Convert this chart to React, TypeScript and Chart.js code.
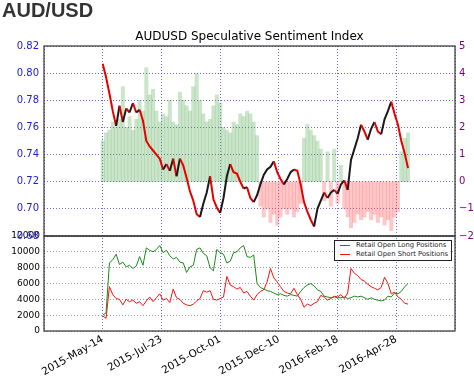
import React, { useEffect, useRef } from "react";
import { Chart, registerables } from "chart.js";

Chart.register(...registerables);

const PAGE_TITLE = "AUD/USD";
const CHART_TITLE = "AUDUSD Speculative Sentiment Index";
const LONG_LABEL = "Retail Open Long Positions";
const SHORT_LABEL = "Retail Open Short Positions";

// Days since 2015-05-14 (one sample every 4 days)
const SAMPLE_DAYS = [
  0, 4, 8, 12, 16, 20, 24, 28, 32, 36, 40, 44, 48, 52, 56, 60, 64, 68, 72, 76,
  80, 84, 88, 92, 96, 100, 104, 108, 112, 116, 120, 124, 128, 132, 136, 140, 144, 148, 152, 156,
  160, 164, 168, 172, 176, 180, 184, 188, 192, 196, 200, 204, 208, 212, 216, 220, 224, 228, 232, 236,
  240, 244, 248, 252, 256, 260, 264, 268, 272, 276, 280, 284, 288, 292, 296, 300, 304, 308, 312, 316,
  320, 324, 328, 332, 336, 340, 344, 348, 352, 356, 360, 364,
];

// AUDUSD close
const CLOSE = [
  0.807, 0.797, 0.785, 0.772, 0.761, 0.776, 0.764, 0.774, 0.771, 0.778,
  0.771, 0.773, 0.765, 0.750, 0.746, 0.743, 0.740, 0.737, 0.729, 0.733,
  0.728, 0.737, 0.724, 0.737, 0.732, 0.723, 0.713, 0.706, 0.696, 0.694,
  0.704, 0.712, 0.724, 0.707, 0.701, 0.697, 0.708, 0.724, 0.733, 0.727,
  0.726, 0.720, 0.715, 0.716, 0.708, 0.705, 0.710, 0.718, 0.725, 0.729,
  0.731, 0.735, 0.727, 0.722, 0.718, 0.722, 0.727, 0.729, 0.728, 0.718,
  0.705, 0.698, 0.692, 0.687, 0.700, 0.706, 0.712, 0.708, 0.712, 0.714,
  0.711, 0.718, 0.721, 0.714, 0.736, 0.744, 0.752, 0.762, 0.757, 0.751,
  0.759, 0.764, 0.757, 0.755, 0.766, 0.772, 0.779, 0.770, 0.762, 0.750,
  0.741, 0.730,
];

// Speculative sentiment ratio (right axis)
const SENTIMENT = [
  1.5, 1.8, 1.9, 2.2, 2.0, 2.3, 3.5, 2.0, 2.4, 1.9,
  2.3, 3.0, 2.6, 4.2, 3.2, 3.4, 2.6, 2.2, 2.5, 2.4,
  3.0, 2.2, 2.1, 3.3, 3.0, 2.8, 2.6, 3.5, 4.0, 3.0,
  2.5, 2.2, 2.3, 2.8, 3.2, 2.9, 2.0, 1.9, 1.8, 2.2,
  2.1, 2.5, 2.4, 2.6, 2.5, 2.2, 1.7, -0.9, -1.3, -1.0,
  -1.5, -1.2, -1.6, -1.3, -1.0, -1.2, -1.0, -1.3, -1.1, -0.8,
  1.6, 2.1, 1.9, 1.7, 1.5, 1.2, -0.7, 1.1, -0.9, 1.2,
  -0.8, 0.6, -1.0, -1.3, -1.7, -1.5, -1.2, -1.4, -1.3, -1.1,
  -1.4, -1.2, -1.5, -1.3, -1.6, -1.4, -1.8, -1.3, -1.1, 1.1,
  1.6, 1.8,
];

const LONG = [
  2000, 2300, 8600, 9000, 9700, 8400, 8700, 8100, 8300, 7900,
  8200, 9400, 8300, 10500, 10200, 10000, 10300, 10800, 9900, 10200,
  9500, 9100, 9300, 8700, 8600, 7400, 8100, 8300, 10300, 10500,
  9800, 9500, 8000, 7600, 10300, 9900, 9700, 8600, 8800, 9900,
  10000, 10500, 10800, 9400, 9300, 9600, 6000, 5500, 5300, 5100,
  5000, 4800, 4600, 4700, 4500, 4400, 4600, 4500, 4400, 5000,
  5500, 5800, 6000, 5700, 5200, 5000, 4400, 4300, 4200, 4300,
  4200, 4200, 4300, 4100, 4200, 4400, 4300, 4400, 4200, 4000,
  4200, 4000, 3900, 3800, 3900, 4400, 4300, 4800, 4700, 5000,
  5600, 6000,
];

const SHORT = [
  1900, 1600, 5600, 4600, 4100, 4000, 3300, 4000, 3700, 3900,
  3500, 3700, 3200, 3800, 4300, 3700, 4200, 4700, 3900, 4100,
  3600, 5300, 4200, 4000, 3500, 3300, 3200, 3400, 3800, 4100,
  5100, 4900, 5100, 4000, 3900, 4100, 4300, 6900, 5800, 5600,
  5300, 5500, 4800, 5000, 4400, 3900, 4600, 5000, 5200, 6200,
  7900, 6700, 6200, 5600, 5000, 4800, 4700, 5400, 4600, 4000,
  3000, 3400, 3200, 3500, 3700, 4500, 4300, 3900, 4100, 4400,
  4300, 4600, 4100, 4800, 7900, 7300, 7000, 6500, 6300, 5900,
  5600, 5400, 5200, 5500, 6800, 6000, 4700, 4900, 4300, 4000,
  3500, 3400,
];

const X_TICKS = [-70, 0, 70, 140, 210, 280, 350, 420];
const X_TICK_LABELS = ["", "2015-May-14", "2015-Jul-23", "2015-Oct-01", "2015-Dec-10", "2016-Feb-18", "2016-Apr-28", ""];
const PRICE_TICKS = [0.68, 0.7, 0.72, 0.74, 0.76, 0.78, 0.8, 0.82];
const PRICE_TICK_LABELS = ["0.68", "0.70", "0.72", "0.74", "0.76", "0.78", "0.80", "0.82"];
const SENT_TICKS = [-2, -1, 0, 1, 2, 3, 4, 5];
const SENT_TICK_LABELS = ["\u22122", "\u22121", "0", "1", "2", "3", "4", "5"];
const VOL_TICKS = [0, 2000, 4000, 6000, 8000, 10000, 12000];

const FONT = "DejaVu Sans";
const UP_COLOR = "#1a1a1a";
const DOWN_COLOR = "#e80000";
const LONG_COLOR = "#1a8a1a";
const SHORT_COLOR = "#ff1010";

const framePlugin = {
  id: "frame",
  afterDatasetsDraw(chart: any) {
    const { ctx, chartArea } = chart;
    const p = chart.scales.yPrice;
    const v = chart.scales.yVol;
    ctx.save();
    ctx.strokeStyle = "#333";
    ctx.lineWidth = 1.2;
    ctx.strokeRect(chartArea.left, p.top, chartArea.right - chartArea.left, p.bottom - p.top);
    ctx.strokeRect(chartArea.left, v.top, chartArea.right - chartArea.left, v.bottom - v.top);
    ctx.restore();
  },
};

function setTicks(values: number[]) {
  return (scale: any) => {
    scale.ticks = values.map((value) => ({ value }));
  };
}

export default function App() {
  const ref = useRef<HTMLCanvasElement | null>(null);

  useEffect(() => {
    if (!ref.current) return;
    const chart = new Chart(ref.current, {
      type: "line",
      data: {
        datasets: [
          {
            type: "line",
            label: "AUDUSD",
            data: CLOSE.map((c, i) => ({ x: SAMPLE_DAYS[i], y: c })),
            yAxisID: "yPrice",
            borderColor: DOWN_COLOR,
            borderWidth: 2,
            pointRadius: 0,
            tension: 0,
            segment: {
              borderColor: (ctx: any) => (ctx.p1.parsed.y > ctx.p0.parsed.y ? UP_COLOR : DOWN_COLOR),
            },
            order: 0,
          } as any,
          {
            type: "bar",
            label: "Sentiment",
            data: SENTIMENT.map((v, i) => ({ x: SAMPLE_DAYS[i], y: v })),
            yAxisID: "ySent",
            backgroundColor: SENTIMENT.map((v) => (v >= 0 ? "rgba(80,170,80,0.3)" : "rgba(255,80,80,0.32)")),
            borderWidth: 0,
            barPercentage: 1,
            categoryPercentage: 1,
            grouped: false,
            order: 3,
          } as any,
          {
            type: "line",
            label: LONG_LABEL,
            data: LONG.map((v, i) => ({ x: SAMPLE_DAYS[i], y: v })),
            yAxisID: "yVol",
            borderColor: LONG_COLOR,
            borderWidth: 1,
            pointRadius: 0,
            tension: 0,
            order: 1,
          },
          {
            type: "line",
            label: SHORT_LABEL,
            data: SHORT.map((v, i) => ({ x: SAMPLE_DAYS[i], y: v })),
            yAxisID: "yVol",
            borderColor: SHORT_COLOR,
            borderWidth: 1,
            pointRadius: 0,
            tension: 0,
            order: 1,
          },
        ],
      },
      options: {
        responsive: false,
        maintainAspectRatio: false,
        animation: false,
        layout: { padding: 0 },
        plugins: {
          legend: { display: false },
          tooltip: { enabled: false },
          title: {
            display: true,
            text: CHART_TITLE,
            fullSize: false,
            color: "#000",
            font: { family: FONT, size: 12, weight: "normal", lineHeight: 1.2 },
            padding: { top: 30, bottom: 1.6 },
          },
        },
        scales: {
          x: {
            type: "linear",
            position: "bottom",
            min: -70,
            max: 420,
            offset: false,
            afterBuildTicks: setTicks(X_TICKS),
            afterFit: (s: any) => {
              s.height = 46;
            },
            ticks: {
              autoSkip: false,
              maxRotation: 30,
              minRotation: 30,
              padding: 2,
              color: "#000",
              font: { family: FONT, size: 10.5 },
              callback: (value: any) => {
                const idx = X_TICKS.indexOf(Number(value));
                return idx >= 0 ? X_TICK_LABELS[idx] : "";
              },
            },
            grid: { color: "rgba(70,70,210,0.8)", lineWidth: 1, drawTicks: false, offset: false },
            border: { display: false, dash: [1, 2] },
          },
          yVol: {
            type: "linear",
            position: "left",
            stack: "L",
            stackWeight: 1,
            min: 0,
            max: 12000,
            afterBuildTicks: setTicks(VOL_TICKS),
            afterFit: (s: any) => {
              s.width = 44;
            },
            ticks: {
              autoSkip: false,
              padding: 4,
              color: "#000",
              font: { family: FONT, size: 9 },
              callback: (value: any) => String(value),
            },
            grid: { color: "#9a9a9a", lineWidth: 1, drawTicks: false },
            border: { display: false, dash: [1, 2] },
          },
          yPrice: {
            type: "linear",
            position: "left",
            stack: "L",
            stackWeight: 2,
            min: 0.68,
            max: 0.82,
            afterBuildTicks: setTicks(PRICE_TICKS),
            afterFit: (s: any) => {
              s.width = 44;
            },
            ticks: {
              autoSkip: false,
              padding: 5,
              color: "#2020d8",
              font: { family: FONT, size: 10 },
              callback: (value: any) => {
                const idx = PRICE_TICKS.findIndex((t) => Math.abs(t - Number(value)) < 1e-6);
                return idx >= 0 ? PRICE_TICK_LABELS[idx] : "";
              },
            },
            grid: { color: "rgba(100,70,190,0.85)", lineWidth: 1, drawTicks: false },
            border: { display: false, dash: [1, 2] },
          },
          ySent: {
            type: "linear",
            position: "right",
            stack: "R",
            stackWeight: 2,
            min: -2,
            max: 5,
            afterBuildTicks: setTicks(SENT_TICKS),
            afterFit: (s: any) => {
              s.width = 19;
            },
            ticks: {
              autoSkip: false,
              padding: 4,
              color: "#800080",
              font: { family: FONT, size: 10 },
              callback: (value: any) => {
                const idx = SENT_TICKS.indexOf(Number(value));
                return idx >= 0 ? SENT_TICK_LABELS[idx] : "";
              },
            },
            grid: { display: false, drawTicks: false },
            border: { display: false },
          },
          yPad: {
            type: "linear",
            position: "right",
            stack: "R",
            stackWeight: 1,
            min: 0,
            max: 1,
            afterFit: (s: any) => {
              s.width = 19;
            },
            ticks: { display: false },
            grid: { display: false, drawTicks: false },
            border: { display: false },
          },
        },
      } as any,
      plugins: [framePlugin],
    });
    return () => chart.destroy();
  }, []);

  const legendText: React.CSSProperties = {
    position: "absolute",
    left: 21,
    fontFamily: FONT,
    fontSize: "6.8px",
    lineHeight: "8px",
    color: "#222",
    whiteSpace: "nowrap",
  };

  return (
    <div style={{ position: "absolute", left: 0, top: 0, width: 474, height: 377, background: "#fff", overflow: "hidden" }}>
      <canvas ref={ref} width={474} height={377} style={{ position: "absolute", left: 0, top: 0, width: 474, height: 377 }} />
      <div
        style={{
          position: "absolute",
          left: 2,
          top: 0,
          font: 'bold 20px "Liberation Sans", Arial, sans-serif',
          lineHeight: "20px",
          color: "#333",
        }}
      >
        {PAGE_TITLE}
      </div>
      <div
        style={{
          position: "absolute",
          left: 334,
          top: 240,
          width: 118,
          height: 21,
          boxSizing: "border-box",
          border: "1px solid #222",
          background: "#fff",
        }}
      >
        <div style={{ position: "absolute", left: 5, top: 4, width: 10, height: 1, background: LONG_COLOR }} />
        <div style={{ ...legendText, top: 0 }}>{LONG_LABEL}</div>
        <div style={{ position: "absolute", left: 5, top: 13, width: 10, height: 1, background: SHORT_COLOR }} />
        <div style={{ ...legendText, top: 9 }}>{SHORT_LABEL}</div>
      </div>
    </div>
  );
}
